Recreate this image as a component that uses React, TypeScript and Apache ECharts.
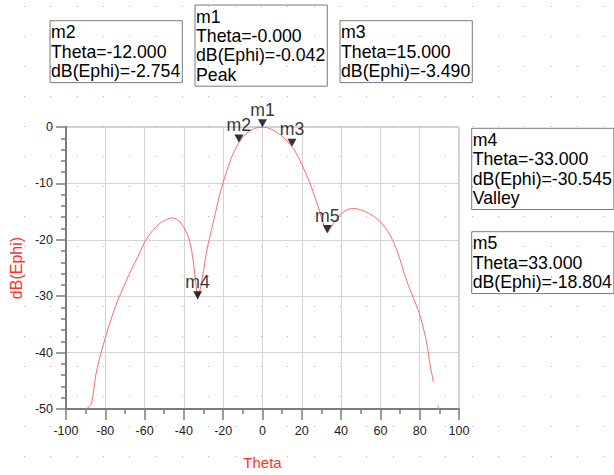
import React, { useEffect, useRef } from "react";
import * as echarts from "echarts";

// ---- data ----
const thetaDeg = [
  -90, -89, -88, -87, -86, -85, -84, -83, -82, -80, -78, -76, -74, -72, -70, -68, -66, -64, -62, -60,
  -58, -56, -54, -52, -50, -48, -46, -44, -42, -40, -38, -37, -36, -35, -34, -33, -32, -31, -30, -29,
  -28, -27, -26, -24, -22, -20, -18, -16, -14, -12, -10, -8, -6, -4, -2, 0, 2, 4, 6, 8,
  10, 12, 14, 15, 16, 18, 20, 22, 24, 26, 28, 29, 30, 31, 32, 33, 34, 35, 36, 38,
  40, 42, 44, 46, 48, 50, 52, 54, 56, 58, 60, 62, 64, 66, 68, 70, 72, 74, 76, 78,
  80, 81, 82, 83, 84, 85, 86, 87, 88, 89, 90,
];
const dBEphi: (number | null)[] = [
  -50.0, -49.8, -49.5, -49.1, -47.0, -44.3, -42.6, -41.2, -39.8, -37.4, -35.1, -33.0, -31.0, -29.4, -27.8, -26.2, -24.8, -23.4, -21.9, -20.4,
  -19.3, -18.4, -17.7, -17.0, -16.6, -16.3, -16.1, -16.3, -16.8, -17.8, -19.2, -20.3, -22.0, -24.3, -27.5, -30.545, -29.3, -27.6, -25.5, -23.2,
  -21.3, -19.8, -18.3, -15.3, -12.3, -9.8, -7.6, -5.6, -4.0, -2.754, -1.8, -1.1, -0.6, -0.25, -0.08, -0.042, -0.08, -0.3, -0.65, -1.1,
  -1.65, -2.3, -3.05, -3.49, -3.95, -5.2, -6.6, -8.2, -9.8, -11.7, -13.8, -14.9, -16.1, -17.2, -18.2, -18.804, -18.3, -17.7, -17.1, -16.2,
  -15.4, -14.85, -14.55, -14.45, -14.5, -14.7, -14.95, -15.3, -15.7, -16.2, -16.8, -17.6, -18.6, -19.9, -21.5, -23.5, -25.8, -27.9, -29.6, -31.4,
  -33.2, -34.5, -35.9, -37.3, -39.1, -41.6, -43.5, -45.2, null, -49.4, -50.0,
];

const markerNames = ["m1", "m2", "m3", "m4", "m5"];
const markerTheta = [-0, -12, 15, -33, 33];
const markerDB = [-0.042, -2.754, -3.49, -30.545, -18.804];
const markerNote = ["Peak", "", "", "Valley", ""];

const xTicks = { min: -100, max: 100, interval: 20 };
const yTicks = { min: -50, max: 0, interval: 10 };

// ---- layout (not data) ----
const boxPos: Record<string, [number, number]> = {
  m1: [195, 5],
  m2: [50, 20.7],
  m3: [340, 20.7],
  m4: [471.7, 128.3],
  m5: [471.7, 231.7],
};

const FONT = '"Liberation Sans", Arial, Helvetica, sans-serif';

function fmt(v: number): string {
  const neg = v < 0 || Object.is(v, -0);
  return (neg ? "-" : "") + Math.abs(v).toFixed(3);
}

export default function App() {
  const ref = useRef<HTMLDivElement>(null);

  useEffect(() => {
    document.body.style.margin = "0";
    if (!ref.current) return;
    const chart = echarts.init(ref.current, undefined, { renderer: "svg" });

    const dots: any[] = [];
    for (let j = 0; j < 16; j++) {
      for (let i = 0; i < 23; i++) {
        dots.push({
          type: "rect",
          silent: true,
          z: -10,
          shape: { x: Math.round(24 + 26.33 * i), y: 6 + 30 * j, width: 1, height: 1 },
          style: { fill: "#b4b4b4" },
        });
      }
    }

    const boxes = markerNames.map((n, i) => {
      const lines = [n, "Theta=" + fmt(markerTheta[i]), "dB(Ephi)=" + fmt(markerDB[i])];
      if (markerNote[i]) lines.push(markerNote[i]);
      const [bx, by] = boxPos[n];
      return {
        type: "text",
        x: bx,
        y: by,
        z: 10,
        style: {
          text: lines.join("\n"),
          fontSize: 17.7,
          fontFamily: FONT,
          fill: "#000",
          lineHeight: 19.3,
          borderColor: "#7a7a7a",
          borderWidth: 1,
          padding: [2, 2, 2, 1],
          textAlign: "left",
          textVerticalAlign: "top",
        },
      };
    });

    chart.setOption({
      animation: false,
      graphic: { elements: [...dots, ...boxes] },
      grid: { left: 63, right: 155, top: 127, bottom: 62, show: true, borderColor: "#a0a0a0", borderWidth: 1 },
      xAxis: {
        type: "value",
        min: xTicks.min,
        max: xTicks.max,
        interval: xTicks.interval,
        name: "Theta",
        nameLocation: "middle",
        nameGap: 46,
        nameTextStyle: { color: "#ff3030", fontSize: 15, fontFamily: FONT },
        axisLine: { onZero: false, lineStyle: { color: "#7c7c7c", width: 2 } },
        axisTick: { show: true, length: 11, lineStyle: { color: "#7c7c7c", width: 1.5 } },
        minorTick: { show: true, splitNumber: 2, length: 5, lineStyle: { color: "#7c7c7c", width: 1.5 } },
        axisLabel: { color: "#222", fontSize: 12.5, fontFamily: FONT, margin: 15, showMinLabel: true, showMaxLabel: true },
        splitLine: { show: true, lineStyle: { color: "#d4d4d4", width: 1 } },
      },
      yAxis: {
        type: "value",
        min: yTicks.min,
        max: yTicks.max,
        interval: yTicks.interval,
        name: "dB(Ephi)",
        nameLocation: "middle",
        nameGap: 38,
        nameRotate: 90,
        nameTextStyle: { color: "#ff3030", fontSize: 16, fontFamily: FONT },
        axisLine: { show: true, onZero: false, lineStyle: { color: "#7c7c7c", width: 2 } },
        axisTick: { show: true, length: 10, lineStyle: { color: "#7c7c7c", width: 1.5 } },
        minorTick: { show: true, splitNumber: 5, length: 5, lineStyle: { color: "#7c7c7c", width: 1.5 } },
        axisLabel: { color: "#222", fontSize: 12.5, fontFamily: FONT, margin: 13, showMinLabel: true, showMaxLabel: true },
        splitLine: { show: true, lineStyle: { color: "#d4d4d4", width: 1 } },
      },
      series: [
        {
          type: "line",
          data: thetaDeg.map((t, i) => [t, dBEphi[i]]),
          showSymbol: false,
          symbol: "none",
          connectNulls: false,
          lineStyle: { color: "#ff6b6b", width: 1 },
          z: 3,
        },
        {
          type: "scatter",
          data: markerNames.map((n, i) => ({ name: n, value: [markerTheta[i], markerDB[i]] })),
          symbol: "triangle",
          symbolRotate: 180,
          symbolSize: [9, 8],
          symbolOffset: [0, -4],
          itemStyle: { color: "#000" },
          clip: false,
          label: {
            show: true,
            position: "top",
            formatter: "{b}",
            color: "#000",
            fontSize: 17.7,
            fontFamily: FONT,
            distance: 1,
            lineHeight: 17,
          },
          z: 5,
        },
      ],
    });

    return () => chart.dispose();
  }, []);

  return <div ref={ref} style={{ width: 614, height: 475 }} />;
}
